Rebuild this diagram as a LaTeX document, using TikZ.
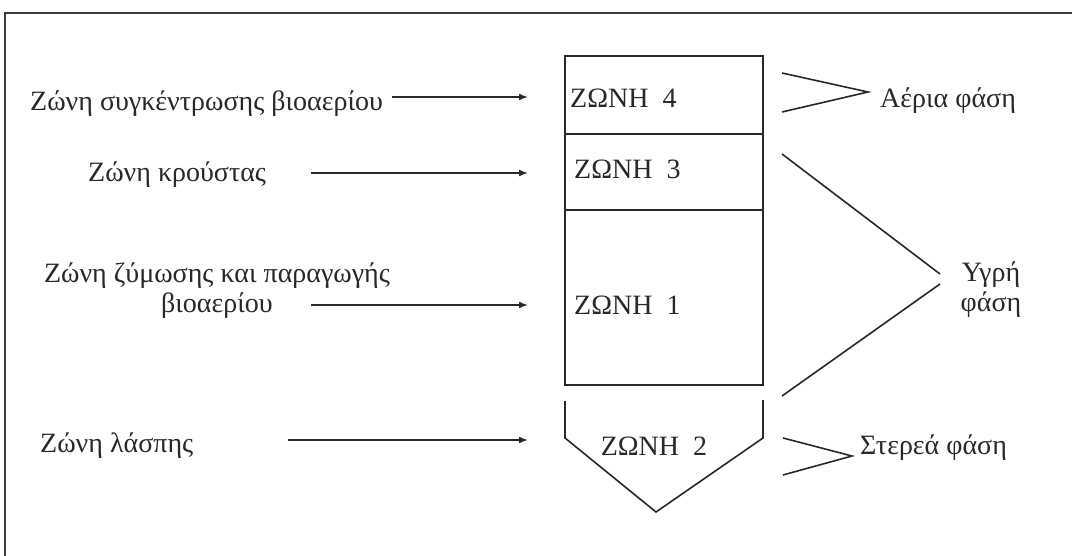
\documentclass[tikz,border=0pt]{standalone}
\usepackage{fontspec}
\setmainfont{Liberation Serif}
\usepackage{tikz}
\usetikzlibrary{arrows.meta}
\definecolor{inkgray}{RGB}{40,40,40}
\definecolor{framegray}{RGB}{60,60,60}
\tikzset{
  sidetext/.style={anchor=base west,inner sep=0pt,text=inkgray,font=\fontsize{28}{30}\selectfont},
  zonetext/.style={sidetext},
  feedflow/.style={-{Latex[length=9pt,width=7pt]},line width=1.6pt,draw=inkgray},
  tankline/.style={line width=1.6pt,draw=inkgray},
  phaseedge/.style={line width=1.6pt,draw=inkgray},
  framebox/.style={line width=1.4pt,draw=framegray}
}
\begin{document}
\begin{tikzpicture}[x=1pt,y=-1pt]
  \useasboundingbox (0,0) rectangle (1072,556);
  \draw[framebox] (5,556) -- (5,13) -- (1072,13);

  % zone names on the left
  \node[sidetext] (szone4) at (30,111) {Ζώνη συγκέντρωσης βιοαερίου};
  \node[sidetext] (szone3) at (88,182) {Ζώνη κρούστας};
  \node[sidetext,anchor=center,align=center] (szone1) at (217,291) {Ζώνη ζύμωσης και παραγωγής\\βιοαερίου};
  \node[sidetext] (szone2) at (40,452) {Ζώνη λάσπης};
  \coordinate (a4) at (392,97);  \coordinate (t4) at (528,97);
  \coordinate (a3) at (311,173); \coordinate (t3) at (528,173);
  \coordinate (a1) at (311,305); \coordinate (t1) at (528,305);
  \coordinate (a2) at (288,440); \coordinate (t2) at (528,440);
  \draw[feedflow] (a4) -- (t4); \draw[feedflow] (a3) -- (t3);
  \draw[feedflow] (a1) -- (t1); \draw[feedflow] (a2) -- (t2);

  % the tank
  \draw[tankline] (565,56) rectangle (763,385);
  \draw[tankline] (565,134) -- (763,134);
  \draw[tankline] (565,210) -- (763,210);
  \draw[tankline] (565,401) -- (565,438) -- (656,512) -- (763,438) -- (763,400);
  \node[zonetext] (zone4) at (570,108) {ΖΩΝΗ\enspace 4};
  \node[zonetext] (zone3) at (574,179) {ΖΩΝΗ\enspace 3};
  \node[zonetext] (zone1) at (574,315) {ΖΩΝΗ\enspace 1};
  \node[zonetext,anchor=base] (zone2) at (654,455) {ΖΩΝΗ\enspace 2};

  % phases on the right
  \node[sidetext] (gasph) at (880,108) {Αέρια φάση};
  \node[sidetext,anchor=center,align=center] (liqph) at (991,290) {Υγρή\\φάση};
  \node[sidetext] (solph) at (860,454) {Στερεά φάση};
  \coordinate (g1) at (782,73);  \coordinate (gp) at (868,92);  \coordinate (g2) at (782,112);
  \coordinate (l1) at (782,154); \coordinate (lp1) at (940,274);
  \coordinate (lp2) at (940,284); \coordinate (l2) at (782,396);
  \coordinate (s1) at (783,438); \coordinate (sp) at (852,456); \coordinate (s2) at (783,475);
  \draw[phaseedge] (g1) -- (gp) -- (g2);
  \draw[phaseedge] (l1) -- (lp1); \draw[phaseedge] (lp2) -- (l2);
  \draw[phaseedge] (s1) -- (sp) -- (s2);
\end{tikzpicture}
\end{document}
